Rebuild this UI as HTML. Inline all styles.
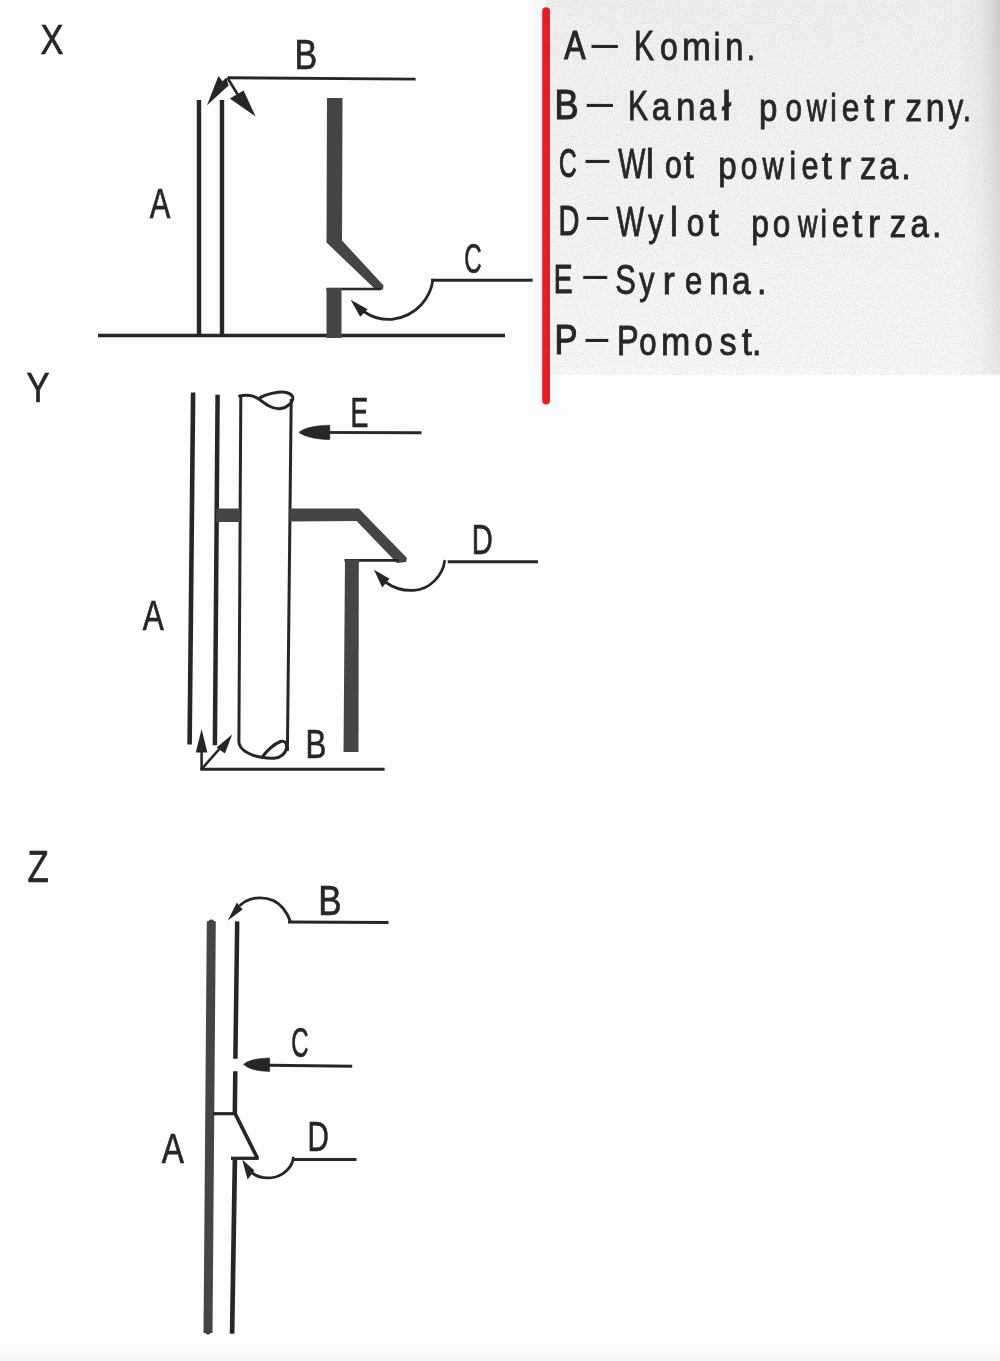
<!DOCTYPE html>
<html lang="pl"><head><meta charset="utf-8"><title>Komin – schemat X, Y, Z</title>
<style>
html,body{margin:0;padding:0;background:#fdfdfd;}
body{width:1000px;height:1361px;overflow:hidden;font-family:"Liberation Sans",sans-serif;}
svg{display:block;}
svg text{font-family:"Liberation Sans",sans-serif;}
</style></head><body>
<svg width="1000" height="1361" viewBox="0 0 1000 1361">
<title>Komin – schematy X, Y, Z</title>
<desc>Legenda: A – Komin. B – Kanał powietrzny. C – Wlot powietrza. D – Wylot powietrza. E – Syrena. P – Pomost.</desc>
<defs>
<linearGradient id="paper" x1="0" y1="0" x2="0" y2="1">
<stop offset="0" stop-color="#f3f3f3"/>
<stop offset="0.45" stop-color="#f6f6f6"/>
<stop offset="1" stop-color="#fbfbfb"/>
</linearGradient>
<linearGradient id="shade" x1="0" y1="0" x2="1" y2="0">
<stop offset="0" stop-color="#d0d0d0" stop-opacity="0"/>
<stop offset="0.5" stop-color="#d0d0d0" stop-opacity="0.25"/>
<stop offset="1" stop-color="#c4c4c4" stop-opacity="0.85"/>
</linearGradient>
<linearGradient id="botshade" x1="0" y1="0" x2="0" y2="1"><stop offset="0" stop-color="#f5f5f5" stop-opacity="0"/><stop offset="1" stop-color="#f5f5f5"/></linearGradient>
<linearGradient id="fd" x1="0" y1="0" x2="0" y2="1">
<stop offset="0" stop-color="#fff"/>
<stop offset="1" stop-color="#666"/>
</linearGradient>
<mask id="fadeDown"><rect x="950" y="0" width="50" height="375" fill="url(#fd)"/></mask>
<filter id="soft" x="0" y="0" width="1000" height="1361" filterUnits="userSpaceOnUse"><feGaussianBlur stdDeviation="0.45"/></filter>
<filter id="grain" x="0" y="0" width="100%" height="100%">
<feTurbulence type="fractalNoise" baseFrequency="0.9" numOctaves="2" seed="7" result="n"/>
<feColorMatrix in="n" type="matrix" values="0 0 0 0 0.45  0 0 0 0 0.45  0 0 0 0 0.45  1.6 0 0 0 -0.62"/>
</filter>
</defs>
<rect x="0" y="0" width="1000" height="1361" fill="#fdfdfd"/>
<rect x="534.5" y="0" width="12" height="374.5" fill="#f8f8f8"/>
<rect x="546" y="0" width="454" height="374.5" fill="url(#paper)"/>
<rect x="546" y="0" width="454" height="374.5" fill="#808080" filter="url(#grain)" opacity="0.5"/>
<rect x="960" y="0" width="40" height="374.5" fill="url(#shade)" mask="url(#fadeDown)"/>
<rect x="0" y="1346" width="1000" height="15" fill="url(#botshade)"/>
<line x1="546.1" y1="11.1" x2="546.1" y2="400.5" stroke="#ed1c24" stroke-width="7.8" stroke-linecap="round"/>
<g filter="url(#soft)">
<text transform="translate(564.36,59.20) scale(0.790,1)" font-size="40.41" fill="#282828" stroke="#282828" stroke-width="1.2">A</text>
<text transform="translate(591.60,58.07) scale(1.033,1)" font-size="46.00" fill="#282828">–</text>
<text y="59.8" fill="#282828" stroke="#282828" stroke-width="0.9" aria-label="Komin."><tspan x="633.89" font-size="43.4" textLength="20.09" lengthAdjust="spacingAndGlyphs">K</tspan><tspan x="660.02" font-size="39.3" textLength="17.76" lengthAdjust="spacingAndGlyphs">o</tspan><tspan x="682.06" font-size="39.3" textLength="28.87" lengthAdjust="spacingAndGlyphs">m</tspan><tspan x="713.73" font-size="39.3" textLength="6.55" lengthAdjust="spacingAndGlyphs">i</tspan><tspan x="725.19" font-size="39.3" textLength="18.17" lengthAdjust="spacingAndGlyphs">n</tspan><tspan x="746.66" font-size="39.3" textLength="8.19" lengthAdjust="spacingAndGlyphs">.</tspan></text>
<text transform="translate(554.47,119.20) scale(0.854,1)" font-size="42.15" fill="#282828" stroke="#282828" stroke-width="1.2">B</text>
<text transform="translate(586.80,116.57) scale(1.025,1)" font-size="46.00" fill="#282828">–</text>
<text y="120.0" fill="#282828" stroke="#282828" stroke-width="0.9" aria-label="Kanał"><tspan x="627.89" font-size="43.4" textLength="20.09" lengthAdjust="spacingAndGlyphs">K</tspan><tspan x="651.73" font-size="39.3" textLength="18.71" lengthAdjust="spacingAndGlyphs">a</tspan><tspan x="676.03" font-size="39.3" textLength="19.48" lengthAdjust="spacingAndGlyphs">n</tspan><tspan x="698.63" font-size="39.3" textLength="17.41" lengthAdjust="spacingAndGlyphs">a</tspan><tspan x="721.96" font-size="40.6" textLength="9.02" lengthAdjust="spacingAndGlyphs">ł</tspan></text>
<text y="120.7" fill="#282828" stroke="#282828" stroke-width="0.9" aria-label="powietrzny."><tspan x="759.03" font-size="39.3" textLength="18.40" lengthAdjust="spacingAndGlyphs">p</tspan><tspan x="785.42" font-size="39.3" textLength="16.47" lengthAdjust="spacingAndGlyphs">o</tspan><tspan x="806.70" font-size="39.3" textLength="19.87" lengthAdjust="spacingAndGlyphs">w</tspan><tspan x="830.23" font-size="39.3" textLength="6.55" lengthAdjust="spacingAndGlyphs">i</tspan><tspan x="841.71" font-size="39.3" textLength="17.64" lengthAdjust="spacingAndGlyphs">e</tspan><tspan x="864.34" font-size="39.3" textLength="10.05" lengthAdjust="spacingAndGlyphs">t</tspan><tspan x="882.96" font-size="39.3" textLength="12.04" lengthAdjust="spacingAndGlyphs">r</tspan><tspan x="905.42" font-size="39.3" textLength="16.57" lengthAdjust="spacingAndGlyphs">z</tspan><tspan x="925.81" font-size="39.3" textLength="18.83" lengthAdjust="spacingAndGlyphs">n</tspan><tspan x="948.29" font-size="39.3" textLength="15.01" lengthAdjust="spacingAndGlyphs">y</tspan><tspan x="962.66" font-size="39.3" textLength="8.19" lengthAdjust="spacingAndGlyphs">.</tspan></text>
<text transform="translate(558.88,177.00) scale(0.590,1)" font-size="41.38" fill="#282828" stroke="#282828" stroke-width="1.2">C</text>
<text transform="translate(585.60,173.07) scale(0.939,1)" font-size="46.00" fill="#282828">–</text>
<text y="177.8" fill="#282828" stroke="#282828" stroke-width="0.9" aria-label="Wlot"><tspan x="618.23" font-size="43.4" textLength="27.10" lengthAdjust="spacingAndGlyphs">W</tspan><tspan x="646.01" font-size="40.6" textLength="7.75" lengthAdjust="spacingAndGlyphs">l</tspan><tspan x="665.09" font-size="39.3" textLength="16.82" lengthAdjust="spacingAndGlyphs">o</tspan><tspan x="683.64" font-size="39.3" textLength="10.05" lengthAdjust="spacingAndGlyphs">t</tspan></text>
<text y="178.6" fill="#282828" stroke="#282828" stroke-width="0.9" aria-label="powietrza."><tspan x="718.23" font-size="39.3" textLength="18.40" lengthAdjust="spacingAndGlyphs">p</tspan><tspan x="740.70" font-size="39.3" textLength="16.70" lengthAdjust="spacingAndGlyphs">o</tspan><tspan x="762.40" font-size="39.3" textLength="21.17" lengthAdjust="spacingAndGlyphs">w</tspan><tspan x="789.53" font-size="39.3" textLength="6.55" lengthAdjust="spacingAndGlyphs">i</tspan><tspan x="801.46" font-size="39.3" textLength="17.04" lengthAdjust="spacingAndGlyphs">e</tspan><tspan x="821.84" font-size="39.3" textLength="10.05" lengthAdjust="spacingAndGlyphs">t</tspan><tspan x="839.36" font-size="39.3" textLength="12.04" lengthAdjust="spacingAndGlyphs">r</tspan><tspan x="860.05" font-size="39.3" textLength="16.21" lengthAdjust="spacingAndGlyphs">z</tspan><tspan x="879.31" font-size="39.3" textLength="18.93" lengthAdjust="spacingAndGlyphs">a</tspan><tspan x="901.30" font-size="39.3" textLength="9.39" lengthAdjust="spacingAndGlyphs">.</tspan></text>
<text transform="translate(558.44,235.20) scale(0.687,1)" font-size="42.15" fill="#282828" stroke="#282828" stroke-width="1.2">D</text>
<text transform="translate(586.80,230.37) scale(0.845,1)" font-size="46.00" fill="#282828">–</text>
<text y="236.0" fill="#282828" stroke="#282828" stroke-width="0.9" aria-label="Wylot"><tspan x="616.53" font-size="43.4" textLength="27.61" lengthAdjust="spacingAndGlyphs">W</tspan><tspan x="648.29" font-size="39.3" textLength="15.01" lengthAdjust="spacingAndGlyphs">y</tspan><tspan x="670.01" font-size="40.6" textLength="7.75" lengthAdjust="spacingAndGlyphs">l</tspan><tspan x="686.64" font-size="39.3" textLength="17.53" lengthAdjust="spacingAndGlyphs">o</tspan><tspan x="708.84" font-size="39.3" textLength="10.05" lengthAdjust="spacingAndGlyphs">t</tspan></text>
<text y="236.7" fill="#282828" stroke="#282828" stroke-width="0.9" aria-label="powietrza."><tspan x="751.31" font-size="39.3" textLength="17.66" lengthAdjust="spacingAndGlyphs">p</tspan><tspan x="772.84" font-size="39.3" textLength="17.53" lengthAdjust="spacingAndGlyphs">o</tspan><tspan x="798.10" font-size="39.3" textLength="19.47" lengthAdjust="spacingAndGlyphs">w</tspan><tspan x="820.43" font-size="39.3" textLength="6.55" lengthAdjust="spacingAndGlyphs">i</tspan><tspan x="832.07" font-size="39.3" textLength="16.92" lengthAdjust="spacingAndGlyphs">e</tspan><tspan x="852.24" font-size="39.3" textLength="10.05" lengthAdjust="spacingAndGlyphs">t</tspan><tspan x="867.96" font-size="39.3" textLength="12.04" lengthAdjust="spacingAndGlyphs">r</tspan><tspan x="889.83" font-size="39.3" textLength="16.45" lengthAdjust="spacingAndGlyphs">z</tspan><tspan x="910.56" font-size="39.3" textLength="18.38" lengthAdjust="spacingAndGlyphs">a</tspan><tspan x="931.90" font-size="39.3" textLength="9.39" lengthAdjust="spacingAndGlyphs">.</tspan></text>
<text transform="translate(553.71,293.40) scale(0.682,1)" font-size="41.28" fill="#282828" stroke="#282828" stroke-width="1.2">E</text>
<text transform="translate(583.20,289.07) scale(0.939,1)" font-size="46.00" fill="#282828">–</text>
<text y="294.2" fill="#282828" stroke="#282828" stroke-width="0.9" aria-label="Syrena."><tspan x="615.26" font-size="43.4" textLength="20.60" lengthAdjust="spacingAndGlyphs">S</tspan><tspan x="639.19" font-size="39.3" textLength="15.21" lengthAdjust="spacingAndGlyphs">y</tspan><tspan x="662.76" font-size="39.3" textLength="12.04" lengthAdjust="spacingAndGlyphs">r</tspan><tspan x="685.04" font-size="39.3" textLength="17.28" lengthAdjust="spacingAndGlyphs">e</tspan><tspan x="708.90" font-size="39.3" textLength="19.74" lengthAdjust="spacingAndGlyphs">n</tspan><tspan x="731.93" font-size="39.3" textLength="18.71" lengthAdjust="spacingAndGlyphs">a</tspan><tspan x="757.10" font-size="39.3" textLength="9.39" lengthAdjust="spacingAndGlyphs">.</tspan></text>
<text transform="translate(554.39,353.80) scale(0.824,1)" font-size="41.86" fill="#282828" stroke="#282828" stroke-width="1.2">P</text>
<text transform="translate(585.60,352.07) scale(0.892,1)" font-size="46.00" fill="#282828">–</text>
<text y="354.6" fill="#282828" stroke="#282828" stroke-width="0.9" aria-label="Pomost."><tspan x="616.90" font-size="43.4" textLength="21.66" lengthAdjust="spacingAndGlyphs">P</tspan><tspan x="639.35" font-size="39.3" textLength="17.29" lengthAdjust="spacingAndGlyphs">o</tspan><tspan x="660.92" font-size="39.3" textLength="29.34" lengthAdjust="spacingAndGlyphs">m</tspan><tspan x="694.49" font-size="39.3" textLength="18.12" lengthAdjust="spacingAndGlyphs">o</tspan><tspan x="719.41" font-size="39.3" textLength="17.06" lengthAdjust="spacingAndGlyphs">s</tspan><tspan x="741.84" font-size="39.3" textLength="10.05" lengthAdjust="spacingAndGlyphs">t</tspan><tspan x="752.00" font-size="39.3" textLength="9.39" lengthAdjust="spacingAndGlyphs">.</tspan></text>
<text transform="translate(40.47,54.05) scale(0.799,1)" font-size="43.17" fill="#282828" stroke="#282828" stroke-width="0.7">X</text>
<text transform="translate(26.49,402.05) scale(0.828,1)" font-size="41.72" fill="#282828" stroke="#282828" stroke-width="0.7">Y</text>
<text transform="translate(27.54,882.05) scale(0.797,1)" font-size="43.75" fill="#282828" stroke="#282828" stroke-width="0.7">Z</text>
<text transform="translate(149.68,217.65) scale(0.714,1)" font-size="43.31" fill="#282828" stroke="#282828" stroke-width="0.7">A</text>
<text transform="translate(294.45,68.65) scale(0.799,1)" font-size="42.59" fill="#282828" stroke="#282828" stroke-width="0.7">B</text>
<text transform="translate(464.22,273.44) scale(0.576,1)" font-size="41.95" fill="#282828" stroke="#282828" stroke-width="0.7">C</text>
<line x1="199" y1="100" x2="199" y2="336" stroke="#282828" stroke-width="4.4" stroke-linecap="butt"/>
<line x1="222" y1="100" x2="222" y2="336" stroke="#282828" stroke-width="4.4" stroke-linecap="butt"/>
<line x1="98" y1="335.5" x2="505" y2="335.5" stroke="#282828" stroke-width="3.5" stroke-linecap="butt"/>
<line x1="227.5" y1="77.8" x2="415.6" y2="79.1" stroke="#282828" stroke-width="2.9" stroke-linecap="butt"/>
<polygon points="218.4,76 222.6,81.2 226.2,77.4 228.6,85.6 207,105.2" fill="#282828"/>
<line x1="227.5" y1="78" x2="238" y2="95" stroke="#282828" stroke-width="2.6" stroke-linecap="butt"/>
<polygon points="243.6,90.6 229.8,98.4 255.6,116.4" fill="#282828"/>
<polygon points="327,98 342.5,98 342,240.5 383.5,285.5 383,289.5 376,290 326.5,242.5" fill="#454545"/>
<line x1="326.5" y1="289" x2="381" y2="289" stroke="#282828" stroke-width="2.6" stroke-linecap="butt"/>
<polygon points="326.5,288 341.5,288 341.5,338 326.5,338" fill="#454545"/>
<line x1="431" y1="280.2" x2="532.7" y2="280.2" stroke="#282828" stroke-width="2.9" stroke-linecap="butt"/>
<path d="M432.8,280.2 C431,296 418,316 392,319.3 C381,320 371,316.5 364.5,312" stroke="#282828" stroke-width="2.8" fill="none" stroke-linecap="round" stroke-linejoin="round"/>
<polygon points="350.6,299.7 367.6,309.3 360.2,316.8" fill="#282828"/>
<text transform="translate(350.55,426.65) scale(0.642,1)" font-size="41.72" fill="#282828" stroke="#282828" stroke-width="0.7">E</text>
<text transform="translate(471.86,554.05) scale(0.697,1)" font-size="41.72" fill="#282828" stroke="#282828" stroke-width="0.7">D</text>
<text transform="translate(142.78,630.05) scale(0.756,1)" font-size="41.72" fill="#282828" stroke="#282828" stroke-width="0.7">A</text>
<text transform="translate(305.38,758.45) scale(0.764,1)" font-size="40.84" fill="#282828" stroke="#282828" stroke-width="0.7">B</text>
<line x1="193.1" y1="392.5" x2="189.6" y2="744.4" stroke="#282828" stroke-width="4.6" stroke-linecap="butt"/>
<line x1="217.6" y1="394.7" x2="214.9" y2="745.2" stroke="#282828" stroke-width="4.5" stroke-linecap="butt"/>
<path d="M240.8,396 L238.9,742 C239.5,750 250,755.5 262,757.3" stroke="#282828" stroke-width="3" fill="none" stroke-linecap="butt" stroke-linejoin="round"/>
<path d="M291.2,399 L287.4,751" stroke="#282828" stroke-width="3" fill="none" stroke-linecap="butt" stroke-linejoin="round"/>
<path d="M239.6,396 C246,394.5 253,395 258.5,398.8 C266,404.5 272,409 279.5,408.8 C287,408 293.5,402 292.8,397.5 C291.5,392.5 284,391.5 278,392.3 C270,393.5 263,395.5 258.5,398.8" stroke="#282828" stroke-width="3" fill="none" stroke-linecap="round" stroke-linejoin="round"/>
<path d="M262,757.3 C266,752 272,745 280.5,741.5 C285,740.5 287,743 286.5,748 C285.5,754 280,758 274,758.3 C269,758.5 265,758 262,757.3" stroke="#282828" stroke-width="3" fill="none" stroke-linecap="round" stroke-linejoin="round"/>
<polygon points="216.5,508.6 240,508.6 240,522 216,522" fill="#454545"/>
<polygon points="289.5,508.6 358.8,508.4 407,558 406,562 397,563 356.6,521 289.4,521.4" fill="#454545"/>
<line x1="344.5" y1="560.4" x2="399" y2="560.4" stroke="#282828" stroke-width="2.6" stroke-linecap="butt"/>
<polygon points="345,559.5 358.8,559.5 358.5,752 343.5,752" fill="#454545"/>
<line x1="300" y1="432.4" x2="421.5" y2="432.8" stroke="#282828" stroke-width="2.9" stroke-linecap="butt"/>
<path d="M299.4,432.2 C304,427.6 317,425.4 329.8,425.2 L329.8,439.6 C317,439.2 304,437 299.4,432.2 Z" stroke="#282828" stroke-width="0.6" fill="#282828" stroke-linecap="round" stroke-linejoin="round"/>
<line x1="447.7" y1="561.8" x2="538" y2="561.8" stroke="#282828" stroke-width="2.9" stroke-linecap="butt"/>
<path d="M444.6,561.2 C443,575 430,589.5 414,590.3 C403,591 393,587.5 386,582.5" stroke="#282828" stroke-width="2.8" fill="none" stroke-linecap="round" stroke-linejoin="round"/>
<polygon points="374,569.8 389.6,578.8 382.2,587.6" fill="#282828"/>
<line x1="200.4" y1="769.2" x2="384.6" y2="769.2" stroke="#282828" stroke-width="2.9" stroke-linecap="butt"/>
<line x1="201.6" y1="769.5" x2="201.6" y2="745" stroke="#282828" stroke-width="2.6" stroke-linecap="butt"/>
<polygon points="201.6,729 207.4,752.4 195.8,752.4" fill="#282828"/>
<line x1="201.6" y1="769.2" x2="222" y2="746" stroke="#282828" stroke-width="2.6" stroke-linecap="butt"/>
<polygon points="232.2,734.6 224.9,753.4 216.6,747.4" fill="#282828"/>
<text transform="translate(318.28,915.25) scale(0.832,1)" font-size="42.01" fill="#282828" stroke="#282828" stroke-width="0.7">B</text>
<text transform="translate(291.23,1057.43) scale(0.561,1)" font-size="42.80" fill="#282828" stroke="#282828" stroke-width="0.7">C</text>
<text transform="translate(307.52,1150.65) scale(0.699,1)" font-size="42.30" fill="#282828" stroke="#282828" stroke-width="0.7">D</text>
<text transform="translate(161.68,1163.15) scale(0.779,1)" font-size="42.59" fill="#282828" stroke="#282828" stroke-width="0.7">A</text>
<path d="M211.3,921.2 L208,1333" stroke="#454545" stroke-width="9" fill="none" stroke-linecap="butt" stroke-linejoin="round"/>
<path d="M211.3,922.5 L208,1331.5" stroke="#454545" stroke-width="6" fill="none" stroke-linecap="round" stroke-linejoin="round"/>
<line x1="237.2" y1="921.4" x2="235.4" y2="1058.8" stroke="#282828" stroke-width="4.5" stroke-linecap="butt"/>
<line x1="235.3" y1="1071.3" x2="234.8" y2="1114" stroke="#282828" stroke-width="4.5" stroke-linecap="butt"/>
<line x1="234.9" y1="1159.5" x2="232.1" y2="1333.8" stroke="#282828" stroke-width="4.7" stroke-linecap="butt"/>
<line x1="213" y1="1113.7" x2="236.6" y2="1113.7" stroke="#282828" stroke-width="3.2" stroke-linecap="butt"/>
<line x1="234.8" y1="1113" x2="257.3" y2="1158" stroke="#282828" stroke-width="3.8" stroke-linecap="butt"/>
<line x1="231" y1="1158.3" x2="258.8" y2="1158.3" stroke="#282828" stroke-width="3.3" stroke-linecap="butt"/>
<line x1="288" y1="922" x2="388.5" y2="922.6" stroke="#282828" stroke-width="3" stroke-linecap="butt"/>
<path d="M290.5,921.8 C287,912 281,904 273,900.4 C266,897.6 258,897.4 250.8,899.2 C246.5,900.5 243,902.5 240.5,905" stroke="#282828" stroke-width="2.8" fill="none" stroke-linecap="round" stroke-linejoin="round"/>
<polygon points="227.8,920.4 236.8,902.4 242.6,909.6" fill="#282828"/>
<line x1="250" y1="1065" x2="352.2" y2="1066.2" stroke="#282828" stroke-width="3" stroke-linecap="butt"/>
<path d="M243.8,1064.4 C248,1060 259,1058.2 269.6,1058 L269.6,1071.4 C259,1071.2 248,1069 243.8,1064.4 Z" stroke="#282828" stroke-width="0.6" fill="#282828" stroke-linecap="round" stroke-linejoin="round"/>
<line x1="293.5" y1="1159.4" x2="356.5" y2="1159.6" stroke="#282828" stroke-width="3" stroke-linecap="butt"/>
<path d="M293.3,1158 C292.5,1166 285,1174.5 275.5,1177 C267,1179 258.5,1177.5 252,1173" stroke="#282828" stroke-width="2.8" fill="none" stroke-linecap="round" stroke-linejoin="round"/>
<polygon points="242.2,1159.6 254.4,1170.4 247.6,1179.6" fill="#282828"/>
</g>
</svg>
</body></html>
